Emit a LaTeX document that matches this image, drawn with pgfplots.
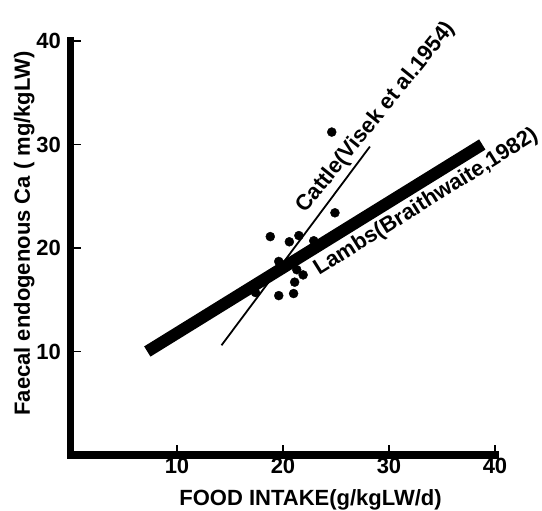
\documentclass[border=0pt]{standalone}
\usepackage{fontspec}
\setmainfont{Liberation Sans}
\usepackage{pgfplots}
\pgfplotsset{compat=1.18}
\newcommand{\bigbf}{\bfseries\fontsize{22bp}{22bp}\selectfont}
\begin{document}
\begin{tikzpicture}
\useasboundingbox (-71bp,-56bp) rectangle (471bp,455bp);
\begin{axis}[
  scale only axis, width=424bp, height=414bp,
  xmin=0, xmax=40, ymin=0, ymax=40,
  axis lines=left,
  axis line style={-, line cap=rect},
  x axis line style={line width=8bp},
  y axis line style={line width=7bp},
  xtick={10,20,30,40}, ytick={10,20,30,40},
  tick align=inside, major tick length=10bp,
  tick style={black, line width=1.5bp},
  /pgf/number format/assume math mode=true,
  tick label style={font=\bigbf},
  xticklabel style={inner sep=1bp, yshift=-2bp},
  yticklabel style={inner sep=1bp, xshift=-9bp},
  xlabel={FOOD INTAKE(g/kgLW/d)},
  xlabel style={font=\bigbf, at={(axis cs:22.6,0)}, anchor=base, yshift=-50bp},
  ylabel={Faecal endogenous Ca ( mg/kgLW)},
  ylabel style={font=\bigbf, at={(axis cs:-4.4,21.4)}, anchor=center},
  clip=false,
]
% Lambs (Braithwaite, 1982)
\addplot[black, line width=12bp] coordinates {(7.2,10) (38.8,30)};
% Cattle (Visek et al. 1954)
\addplot[black, line width=1.8bp] coordinates {(14.2,10.6) (28.2,29.8)};
\addplot[only marks, mark=*, mark size=4.5bp, black] coordinates {
  (18.8,21.1) (20.6,20.6) (21.5,21.2) (22.9,20.7) (24.9,23.4) (24.6,31.2)
  (19.6,18.7) (21.3,17.9) (21.9,17.4) (21.1,16.7) (19.6,15.4) (21.0,15.6)
  (17.4,15.7)
};
\node[rotate=51, font=\bigbf] at (axis cs:28.8,32.6) {Cattle(Visek et al.1954)};
\node[rotate=32, font=\bigbf] at (axis cs:33.5,24.4) {Lambs(Braithwaite,1982)};
\end{axis}
\end{tikzpicture}
\end{document}
